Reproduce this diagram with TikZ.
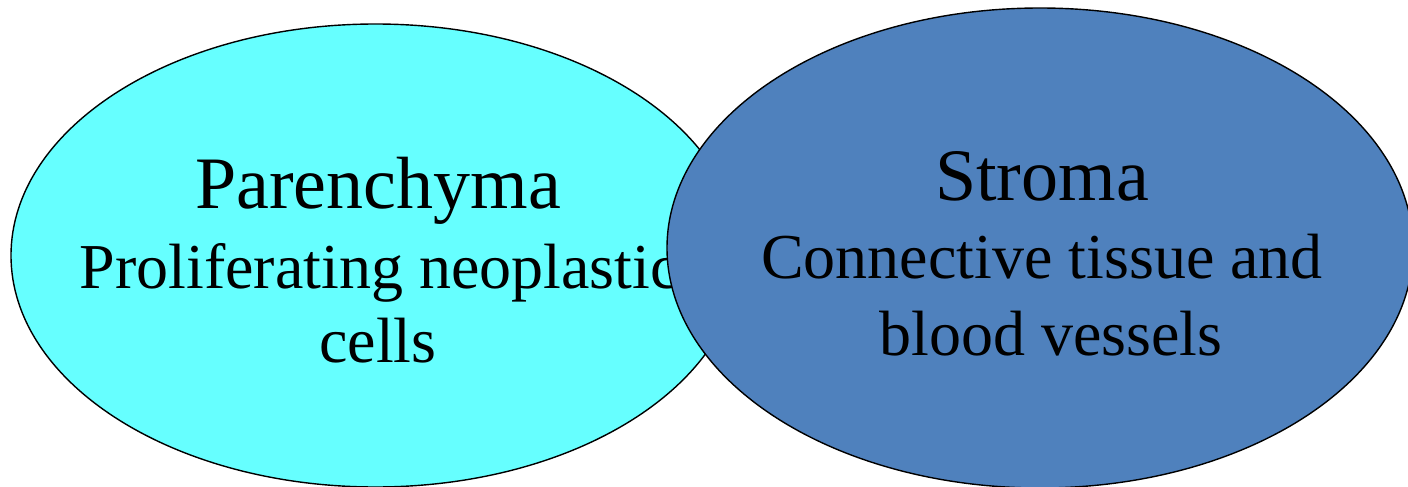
\documentclass[tikz,border=0pt]{standalone}
\usepackage{fontspec}
\setmainfont{Liberation Serif}
\definecolor{paren}{RGB}{102,255,255}
\definecolor{strom}{RGB}{79,129,189}
\begin{document}
\begin{tikzpicture}[x=1pt,y=-1pt,
  blob/.style={draw=black,line width=1.4pt},
  big/.style={anchor=base,inner sep=0pt,font=\fontsize{74}{80}\selectfont},
  small/.style={anchor=base,inner sep=0pt,font=\fontsize{64}{70}\selectfont}]
\useasboundingbox (0,0) rectangle (1408,487);
\begin{scope}
\clip (0,0) rectangle (1408,487);
\draw[blob,fill=paren] (375.5,255.5) ellipse[x radius=364.5,y radius=231.5];
\node[big] (p1) at (378,208) {Parenchyma};
\node[small] (p2) at (379,288) {Proliferating neoplastic};
\node[small] (p3) at (378,362) {cells};
\draw[blob,fill=strom] (1040,248) ellipse[x radius=373,y radius=240];
\node[big] (s1) at (1042,200) {Stroma};
\node[small] (s2) at (1042,278) {Connective tissue and};
\node[small] (s3) at (1051,355) {blood vessels};
\end{scope}
\end{tikzpicture}
\end{document}
